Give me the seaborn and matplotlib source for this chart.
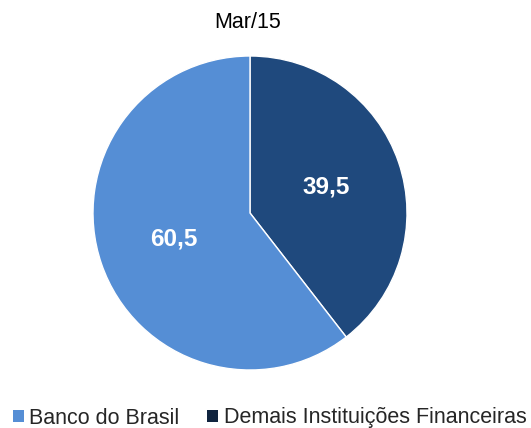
import matplotlib
matplotlib.use("Agg")
import matplotlib.pyplot as plt
import seaborn as sns
import numpy as np
from matplotlib.patches import Patch

sns.set_theme(style="white")
plt.rcParams['font.family'] = ['Liberation Sans', 'DejaVu Sans']

title = "Mar/15"
categories = ["Banco do Brasil", "Demais Instituições Financeiras"]
values = [60.5, 39.5]
labels = ["60,5", "39,5"]
slice_colors = ["#558ED5", "#1F497D"]
legend_colors = ["#558ED5", "#10243F"]

W, H = 531, 428
fig = plt.figure(figsize=(W / 100, H / 100), dpi=100)
cx, cy, r = 250, 213, 157
ax = fig.add_axes([(cx - r) / W, (H - cy - r) / H, 2 * r / W, 2 * r / H])

# dark slice first, clockwise from the top
wedges, texts = ax.pie(values[::-1], colors=slice_colors[::-1], startangle=90,
                       counterclock=False, radius=1,
                       wedgeprops=dict(edgecolor="white", linewidth=1))
ang = 90
for v, lab in zip(values[::-1], labels[::-1]):
    mid = np.deg2rad(ang - v * 3.6 / 2)
    ax.text(0.51 * np.cos(mid), 0.51 * np.sin(mid), lab, ha="center", va="center",
            color="white", fontsize=17.5, fontweight="bold")
    ang -= v * 3.6
ax.set_xlim(-1, 1)
ax.set_ylim(-1, 1)
ax.set_aspect("equal")
ax.axis("off")

fig.text(248 / W, 1 - 23 / H, title, ha="center", va="center", fontsize=15.5, color="#000000")

handles = [Patch(facecolor=c, edgecolor="none") for c in legend_colors]
fig.legend(handles, categories, loc="center left", bbox_to_anchor=(13 / W, 1 - 418 / H),
           ncol=2, frameon=False, fontsize=15.5, handlelength=0.5, handleheight=0.5,
           handletextpad=0.25, columnspacing=1.3, borderpad=0.0, borderaxespad=0)

fig.savefig("out.png", dpi=100)
